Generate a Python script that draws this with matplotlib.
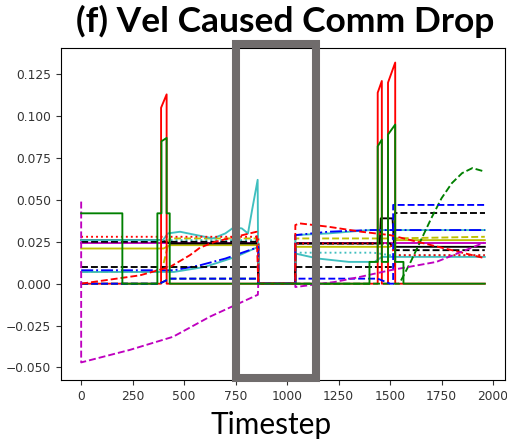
import matplotlib.pyplot as plt
from matplotlib.patches import Rectangle

# ---- series (timestep, value) ----
green_t = [0, 200, 200, 370, 370, 390, 390, 415, 415, 430, 430, 860, 1040, 1400, 1400, 1440, 1440, 1460, 1460,
           1490, 1490, 1525, 1525, 1565, 1565, 1960]
green_v = [0.042, 0.042, 0, 0, 0.042, 0.042, 0.085, 0.087, 0.042, 0.042, 0, 0, 0, 0, 0.013, 0.013, 0.082, 0.086, 0.013,
           0.013, 0.089, 0.095, 0.013, 0.013, 0, 0]

red_t = [0, 388, 388, 415, 415, 860, 1040, 1440, 1440, 1460, 1460, 1490, 1490, 1525, 1525, 1960]
red_v = [0, 0, 0.105, 0.113, 0, 0, 0, 0, 0.114, 0.121, 0, 0, 0.120, 0.132, 0, 0]

green_dash_t = [0, 380, 430, 860, 860, 1040, 1545, 1600, 1650, 1700, 1750, 1800, 1850, 1900, 1957]
green_dash_v = [0, 0, 0.003, 0.003, 0, 0, 0, 0.013, 0.026, 0.039, 0.051, 0.060, 0.066, 0.069, 0.067]

black_t = [0, 390, 430, 860, 860, 1040, 1040, 1450, 1455, 1512, 1520, 1960]
black_v = [0.026, 0.026, 0.024, 0.024, 0, 0, 0.024, 0.024, 0.039, 0.039, 0.022, 0.022]

black_dash_t = [0, 860, 860, 1040, 1040, 1440, 1525, 1525, 1960]
black_dash_v = [0.010, 0.010, 0, 0, 0.010, 0.010, 0.010, 0.042, 0.042]

black_dash2_t = [0, 860, 860, 1040, 1040, 1500, 1520, 1960]
black_dash2_v = [0.025, 0.025, 0, 0, 0.024, 0.024, 0.020, 0.020]

red_dot_t = [0, 860, 860, 1040, 1040, 1500, 1525, 1960]
red_dot_v = [0.028, 0.028, 0, 0, 0.024, 0.024, 0.017, 0.017]

red_dash_t = [0, 286, 431, 528, 577, 650, 750, 852, 860, 1040, 1040, 1060, 1200, 1360, 1500, 1950]
red_dash_v = [0, 0.005, 0.010, 0.017, 0.0215, 0.025, 0.028, 0.031, 0, 0, 0.035, 0.036, 0.034, 0.031, 0.029, 0.0155]

blue_dash_t = [0, 380, 430, 860, 860, 1040, 1040, 1440, 1500, 1515, 1515, 1960]
blue_dash_v = [0, 0, 0.003, 0.003, 0, 0, 0.003, 0.003, 0, 0, 0.047, 0.047]

blue_dd_t = [0, 450, 577, 700, 852, 860, 860, 1040, 1040, 1200, 1400, 1960]
blue_dd_v = [0.008, 0.008, 0.011, 0.015, 0.0215, 0.022, 0, 0, 0.029, 0.031, 0.032, 0.032]

cyan_t = [0, 397, 421, 480, 560, 640, 700, 740, 780, 810, 830, 857, 860, 1040, 1040, 1200, 1400, 1960]
cyan_v = [0.026, 0.026, 0.030, 0.031, 0.029, 0.027, 0.030, 0.0335, 0.033, 0.030, 0.044, 0.062, 0, 0, 0.029, 0.030,
          0.032, 0.032]

cyan2_t = [0, 450, 600, 750, 860, 860, 1040, 1040, 1150, 1300, 1425, 1460, 1960]
cyan2_v = [0.007, 0.007, 0.010, 0.016, 0.022, 0, 0, 0.018, 0.015, 0.013, 0.013, 0.016, 0.016]

cyan_dot_t = [0, 860, 860, 1040, 1040, 1420, 1500, 1960]
cyan_dot_v = [0.026, 0.026, 0, 0, 0.0185, 0.0185, 0.017, 0.017]

mag_t = [0, 860, 860, 1040, 1040, 1960]
mag_v = [0.024, 0.024, 0, 0, 0.024, 0.024]

mag_dash_t = [0, 0, 237, 446, 625, 858, 860, 1040, 1040, 1230, 1352, 1500, 1725, 1957]
mag_dash_v = [0.049, -0.047, -0.0395, -0.0317, -0.0197, -0.0066, 0, 0, -0.002, 0.001, 0.004, 0.008, 0.013, 0.0245]

yel_t = [0, 400, 430, 860, 860, 1040, 1040, 1500, 1525, 1960]
yel_v = [0.021, 0.021, 0.023, 0.023, 0, 0, 0.022, 0.022, 0.026, 0.026]

yel_dash_t = [0, 390, 430, 860, 860, 1040, 1040, 1500, 1960]
yel_dash_v = [0.007, 0.007, 0.027, 0.027, 0, 0, 0.027, 0.027, 0.028]

xticks = [0, 250, 500, 750, 1000, 1250, 1500, 1750, 2000]
yticks = [-0.050, -0.025, 0.000, 0.025, 0.050, 0.075, 0.100, 0.125]

# ---- figure ----
fig = plt.figure(figsize=(5.07, 4.44), dpi=100)
ax = fig.add_axes([0.1203, 0.1441, 0.8757, 0.7479])

lw = 1.35
cyan = '#3fbfbf'
ax.plot(yel_t, yel_v, color='y', lw=lw)
ax.plot(yel_dash_t, yel_dash_v, color='y', lw=lw, ls='--')
ax.plot(mag_t, mag_v, color='m', lw=lw)
ax.plot(cyan2_t, cyan2_v, color=cyan, lw=lw)
ax.plot(cyan_dot_t, cyan_dot_v, color=cyan, lw=lw, ls=':')
ax.plot(black_dash2_t, black_dash2_v, color='k', lw=lw, ls='--')
ax.plot(black_t, black_v, color='k', lw=lw)
ax.plot(cyan_t, cyan_v, color=cyan, lw=lw)
ax.plot(blue_dd_t, blue_dd_v, color='b', lw=lw, ls='-.')
ax.plot(black_dash_t, black_dash_v, color='k', lw=lw, ls='--')
ax.plot(red_t, red_v, color='r', lw=lw)
ax.plot(green_dash_t, green_dash_v, color='g', lw=lw, ls='--')
ax.plot(blue_dash_t, blue_dash_v, color='b', lw=lw, ls='--')
ax.plot(red_dash_t, red_dash_v, color='r', lw=lw, ls='--')
ax.plot(red_dot_t, red_dot_v, color='r', lw=lw, ls=':')
ax.plot(mag_dash_t, mag_dash_v, color='m', lw=lw, ls='--')
ax.plot(green_t, green_v, color='g', lw=lw)

ax.set_xlim(-98, 2058)
ax.set_ylim(-0.0575, 0.1407)
ax.set_xticks(xticks)
ax.set_yticks(yticks)
ax.set_yticklabels([f'{v:.3f}'.replace('-', '\u2212') for v in yticks])
ax.tick_params(labelsize=8.8, labelcolor='#333333', color='#333333')

# highlighted window
fig.patches.append(Rectangle((236 / 507, 1 - 378 / 444), 80 / 507, 334 / 444, transform=fig.transFigure,
                             fill=False, edgecolor='#706c6c', lw=5.8, zorder=10))

fig.text(0.562, 0.952, '(f) Vel Caused Comm Drop', ha='center', va='center',
         fontsize=25.5, fontweight='bold', family='Lato')
fig.text(0.535, 0.043, 'Timestep', ha='center', va='center', fontsize=21.5, family='Lato')

plt.savefig('out.png', dpi=100)
